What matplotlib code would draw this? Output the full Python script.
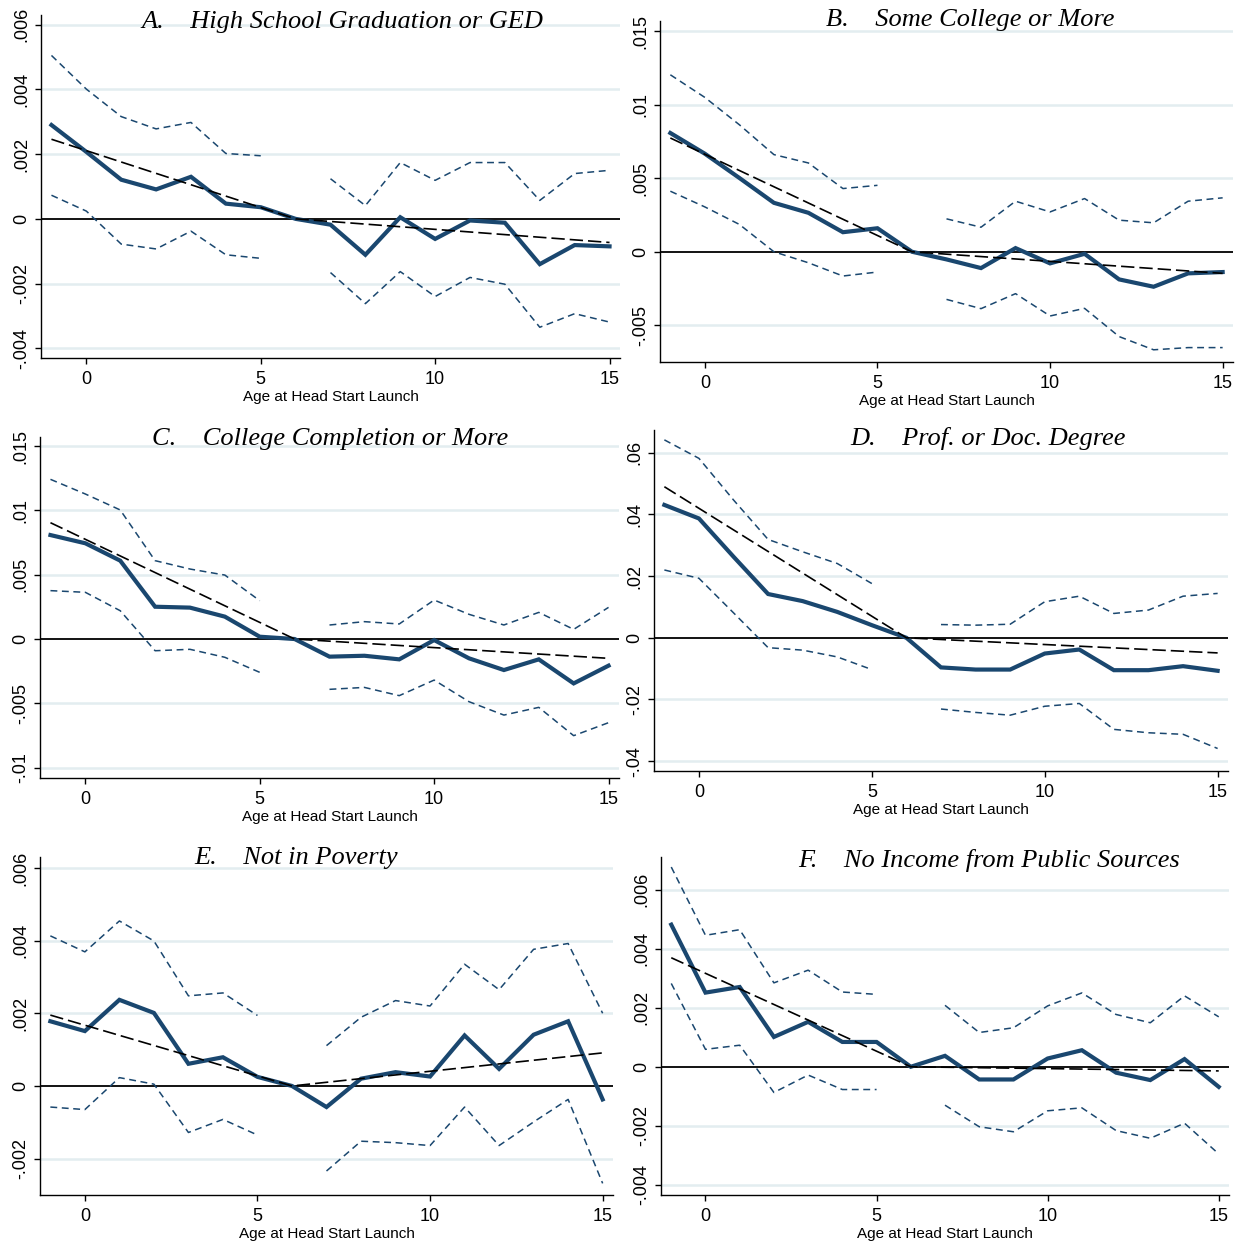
import matplotlib
matplotlib.use("Agg")
import matplotlib.pyplot as plt

nan = float("nan")

# Age at Head Start launch (the reference age 6 has no confidence band)
ages = list(range(-1, 16))
trend_ages = [-1, 6, 15]

titles = [
    "A.    High School Graduation or GED",
    "B.    Some College or More",
    "C.    College Completion or More",
    "D.    Prof. or Doc. Degree",
    "E.    Not in Poverty",
    "F.    No Income from Public Sources",
]

hs_est = [0.0029, 0.00207, 0.00121, 0.00091, 0.0013, 0.00047, 0.00036, 0.0, -0.00018,
          -0.00111, 0.00005, -0.00062, -0.00005, -0.00012, -0.0014, -0.00081, -0.00085]
hs_hi = [0.00505, 0.00401, 0.00316, 0.00278, 0.00298, 0.00202, 0.00195, nan, 0.00124,
         0.00041, 0.00174, 0.00119, 0.00174, 0.00174, 0.00057, 0.0014, 0.0015]
hs_lo = [0.00073, 0.00024, -0.00078, -0.00093, -0.00038, -0.00111, -0.00122, nan, -0.00166,
         -0.00262, -0.00163, -0.0024, -0.00181, -0.00202, -0.00335, -0.00293, -0.00319]
hs_trend = [0.00246, 0.0, -0.00073]

sc_est = [0.00808, 0.00667, 0.00502, 0.00333, 0.00265, 0.00133, 0.0016, 0.0, -0.00052,
          -0.00111, 0.00025, -0.00079, -0.00014, -0.00188, -0.00238, -0.00147, -0.00138]
sc_hi = [0.01204, 0.0105, 0.00864, 0.00661, 0.00604, 0.0043, 0.00452, nan, 0.00224,
         0.00167, 0.00344, 0.00271, 0.00362, 0.00215, 0.00197, 0.00344, 0.00367]
sc_lo = [0.00412, 0.00305, 0.00186, 0.0, -0.00075, -0.00165, -0.00138, nan, -0.00324,
         -0.00387, -0.00285, -0.00437, -0.00385, -0.00577, -0.00667, -0.00652, -0.00652]
sc_trend = [0.00774, 0.0, -0.00147]

cc_est = [0.00808, 0.00744, 0.00609, 0.00251, 0.00244, 0.00174, 0.00018, 0.0, -0.00137,
          -0.0013, -0.00158, -0.00008, -0.0015, -0.00241, -0.00158, -0.00345, -0.00207]
cc_hi = [0.01241, 0.01127, 0.01003, 0.00609, 0.00544, 0.00497, 0.00298, nan, 0.00109,
         0.00135, 0.00117, 0.00303, 0.00192, 0.00109, 0.00207, 0.00075, 0.00246]
cc_lo = [0.00376, 0.00363, 0.0022, -0.00091, -0.0008, -0.00142, -0.00259, nan, -0.00391,
         -0.00376, -0.0044, -0.00319, -0.00487, -0.00591, -0.00531, -0.00751, -0.0065]
cc_trend = [0.00904, 0.0, -0.0015]

pd_est = [0.0431, 0.0387, 0.0263, 0.0142, 0.0119, 0.0084, 0.0041, 0.0, -0.0096,
          -0.0103, -0.0103, -0.0051, -0.0038, -0.0105, -0.0105, -0.0092, -0.0107]
pd_hi = [0.0642, 0.0582, 0.0447, 0.0319, 0.0279, 0.0241, 0.0176, nan, 0.0043,
         0.0041, 0.0044, 0.0117, 0.0135, 0.0079, 0.009, 0.0135, 0.0144]
pd_lo = [0.022, 0.0193, 0.0081, -0.0032, -0.004, -0.0062, -0.0103, nan, -0.0231,
         -0.0242, -0.0251, -0.0222, -0.0213, -0.0297, -0.0308, -0.0313, -0.0359]
pd_trend = [0.049, 0.0, -0.0049]

np_est = [0.00178, 0.00151, 0.00237, 0.00201, 0.00061, 0.00079, 0.00025, 0.0, -0.00058,
          0.0002, 0.00038, 0.00026, 0.00139, 0.00047, 0.00141, 0.00178, -0.00037]
np_hi = [0.00413, 0.00369, 0.00454, 0.00399, 0.00248, 0.00256, 0.00194, nan, 0.00111,
         0.00189, 0.00235, 0.0022, 0.00335, 0.00265, 0.00376, 0.00392, 0.002]
np_lo = [-0.00058, -0.00065, 0.00023, 0.00005, -0.00128, -0.00092, -0.00135, nan, -0.00234,
         -0.00152, -0.00156, -0.00164, -0.00058, -0.00164, -0.00099, -0.00037, -0.00268]
np_trend = [0.00195, 0.0, 0.00091]

pub_est = [0.00481, 0.00251, 0.0027, 0.00101, 0.00152, 0.00084, 0.00084, 0.0, 0.00037,
           -0.00043, -0.00043, 0.00028, 0.00056, -0.0002, -0.00045, 0.00026, -0.00068]
pub_hi = [0.00676, 0.00445, 0.00464, 0.00284, 0.00327, 0.00253, 0.00245, nan, 0.00208,
          0.00116, 0.00132, 0.00206, 0.0025, 0.00177, 0.00149, 0.0024, 0.00169]
pub_lo = [0.00282, 0.00059, 0.00073, -0.00087, -0.00028, -0.00077, -0.00077, nan, -0.0013,
          -0.00203, -0.0022, -0.00149, -0.00139, -0.00216, -0.00242, -0.00191, -0.00295]
pub_trend = [0.00369, 0.0, -0.00014]

yticks = [
    [-0.004, -0.002, 0.0, 0.002, 0.004, 0.006],
    [-0.005, 0.0, 0.005, 0.01, 0.015],
    [-0.01, -0.005, 0.0, 0.005, 0.01, 0.015],
    [-0.04, -0.02, 0.0, 0.02, 0.04, 0.06],
    [-0.002, 0.0, 0.002, 0.004, 0.006],
    [-0.004, -0.002, 0.0, 0.002, 0.004, 0.006],
]
ytick_labels = [
    ["-.004", "-.002", "0", ".002", ".004", ".006"],
    ["-.005", "0", ".005", ".01", ".015"],
    ["-.01", "-.005", "0", ".005", ".01", ".015"],
    ["-.04", "-.02", "0", ".02", ".04", ".06"],
    ["-.002", "0", ".002", ".004", ".006"],
    ["-.004", "-.002", "0", ".002", ".004", ".006"],
]
xticks = [0, 5, 10, 15]
xlabel = "Age at Head Start Launch"

series = [
    (hs_est, hs_lo, hs_hi, hs_trend),
    (sc_est, sc_lo, sc_hi, sc_trend),
    (cc_est, cc_lo, cc_hi, cc_trend),
    (pd_est, pd_lo, pd_hi, pd_trend),
    (np_est, np_lo, np_hi, np_trend),
    (pub_est, pub_lo, pub_hi, pub_trend),
]

# ---- layout (pixels on a 1244 x 1243 canvas) ----
W, H = 1244, 1243
# left, right, top, bottom of each plot region
boxes = [
    (41, 620, 15, 358),
    (660, 1233, 21, 362),
    (40, 619, 437, 778),
    (654, 1228, 430, 771),
    (40, 613, 857, 1195),
    (661, 1229, 857, 1195),
]
ylims = [
    (-0.0043, 0.0063),
    (-0.0075, 0.0157),
    (-0.0108, 0.0157),
    (-0.0432, 0.0674),
    (-0.0030, 0.0063),
    (-0.00434, 0.0071),
]
title_pos = [(342, 22), (970, 20), (330, 439), (988, 439), (296, 858), (989, 860)]

NAVY = "#1a476f"
GRID = "#e3edf0"

fig = plt.figure(figsize=(W / 100, H / 100), dpi=100)
fig.patch.set_facecolor("white")

for i, (est, lo, hi, trend) in enumerate(series):
    l, r, t, b = boxes[i]
    ax = fig.add_axes([l / W, 1 - b / H, (r - l) / W, (b - t) / H])
    ax.set_xlim(-1.3, 15.3)
    ax.set_ylim(*ylims[i])

    for yv in yticks[i]:
        if yv != 0:
            ax.axhline(yv, color=GRID, lw=1.8, zorder=0)
    ax.axhline(0, color="black", lw=1.3, zorder=1)

    ax.plot(ages, hi, color=NAVY, lw=1.1, dashes=(4.5, 3), zorder=2)
    ax.plot(ages, lo, color=NAVY, lw=1.1, dashes=(4.5, 3), zorder=2)
    ax.plot(ages, est, color=NAVY, lw=3.0, solid_joinstyle="miter", zorder=3)
    ax.plot(trend_ages, trend, color="black", lw=1.2, dashes=(8, 3), zorder=4)

    for side in ("top", "right"):
        ax.spines[side].set_visible(False)
    for side in ("left", "bottom"):
        ax.spines[side].set_linewidth(1.0)

    ax.set_xticks(xticks)
    ax.set_xticklabels([str(v) for v in xticks], fontsize=13, family="Liberation Sans")
    ax.set_yticks(yticks[i])
    ax.set_yticklabels(ytick_labels[i], fontsize=13, family="Liberation Sans",
                       rotation=90, va="center")
    ax.tick_params(axis="both", direction="out", length=4.5, width=1.0, pad=3)
    ax.tick_params(axis="x", pad=5)
    ax.set_xlabel(xlabel, fontsize=11, family="Liberation Sans", labelpad=1)

    tx, ty = title_pos[i]
    fig.text(tx / W, 1 - ty / H, titles[i], ha="center", va="center",
             fontsize=19, family="Liberation Serif", style="italic")

fig.savefig("out.png", dpi=100, facecolor="white")
